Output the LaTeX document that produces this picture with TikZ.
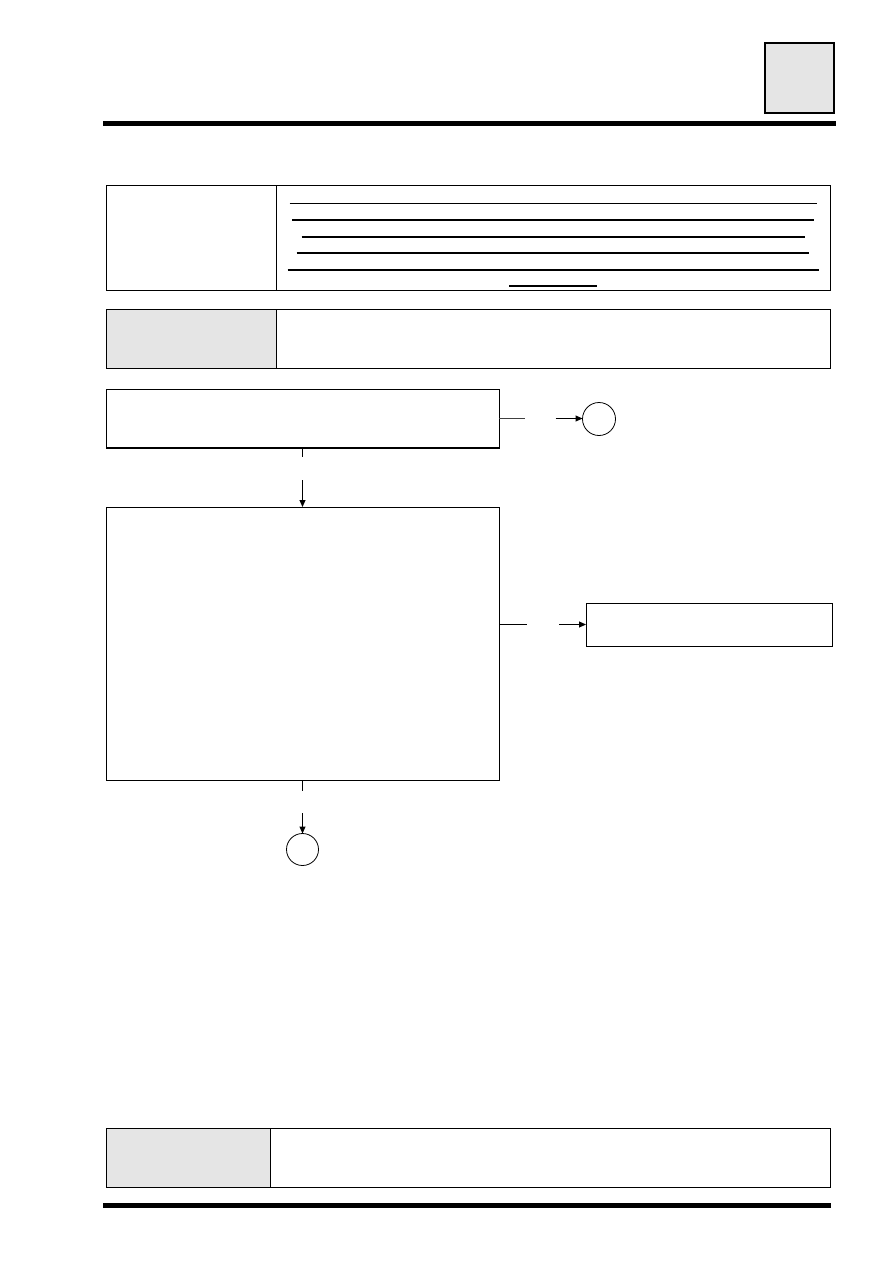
\documentclass[tikz,border=0pt]{standalone}
\usetikzlibrary{arrows.meta,shapes.geometric,calc}
\definecolor{cellgrey}{HTML}{E5E5E5}
\begin{document}
\begin{tikzpicture}[x=1pt,y=-1pt,
  cell/.style={draw,line width=1pt,inner sep=0pt,outer sep=0pt,anchor=north west},
  greycell/.style={cell,fill=cellgrey},
  conn/.style={circle,draw,line width=0.8pt,inner sep=0pt,outer sep=0pt,minimum size=33pt},
  link/.style={line width=1pt},
  arr/.style={line width=1pt,-{Triangle[length=7pt,width=6pt]}},
  rule/.style={fill=black,draw=none}]
\useasboundingbox (0,0) rectangle (893,1263);
\fill[white] (0,0) rectangle (893,1263);
% header
\node[greycell,line width=1.3pt,minimum width=69pt,minimum height=70pt] (tab) at (765,43) {};
\fill[rule] (103,121) rectangle (836,126);
% box 1
\node[cell,minimum width=170pt,minimum height=105pt] (r1l) at (106,185) {};
\node[cell,minimum width=554pt,minimum height=105pt] (r1r) at (276,185) {};
\draw[line width=1pt] (289.5,203.5) -- (816.5,203.5);
\draw[line width=2pt] (292,220) -- (813.5,220);
\draw[line width=2pt] (301.5,237) -- (804.5,237);
\draw[line width=2pt] (296.5,253) -- (808.5,253);
\draw[line width=2pt] (287.5,270) -- (818.5,270);
\draw[line width=2pt] (509,286) -- (597,286);
% box 2
\node[greycell,minimum width=170pt,minimum height=59pt] (r2l) at (106,309) {};
\node[cell,minimum width=554pt,minimum height=59pt] (r2r) at (276,309) {};
% flow
\node[cell,minimum width=393pt,minimum height=59pt] (A) at (106,389) {};
\draw[line width=2pt] (A.south west) -- (A.south east);
\node[conn] (c1) at ($(A.east)+(100,0.5)$) {};
\node[cell,minimum width=393pt,minimum height=273pt] (B) at (106,507) {};
\node[cell,minimum width=246pt,minimum height=43pt] (C) at (586,603) {};
\node[conn,minimum size=32pt] (c2) at ($(B.south)+(0,69.5)$) {};
\coordinate (a1) at ($(A.east)+(26,0)$);
\coordinate (a2) at ($(A.east)+(56.5,0)$);
\draw[link,line width=1.4pt,black!75] (A.east) -- (a1);
\draw[arr] (a2) -- (a2 -| c1.west);
\coordinate (b1) at ($(A.south)+(0,9)$);
\coordinate (b2) at ($(A.south)+(0,32)$);
\draw[link] (A.south) -- (b1);
\draw[arr] (b2) -- (B.north);
\coordinate (e0) at (B.east |- C.west);
\coordinate (e1) at ($(e0)+(28,0)$);
\coordinate (e2) at ($(e0)+(60,0)$);
\draw[link] (e0) -- (e1);
\draw[arr] (e2) -- (C.west);
\coordinate (d1) at ($(B.south)+(0,11)$);
\coordinate (d2) at ($(B.south)+(0,33)$);
\draw[link] (B.south) -- (d1);
\draw[arr] (d2) -- (c2.north);
% footer box
\node[greycell,minimum width=164pt,minimum height=59pt] (fl) at (106,1128) {};
\node[cell,minimum width=560pt,minimum height=59pt] (fr) at (270,1128) {};
\fill[rule] (103,1203) rectangle (831,1208);
\end{tikzpicture}
\end{document}
